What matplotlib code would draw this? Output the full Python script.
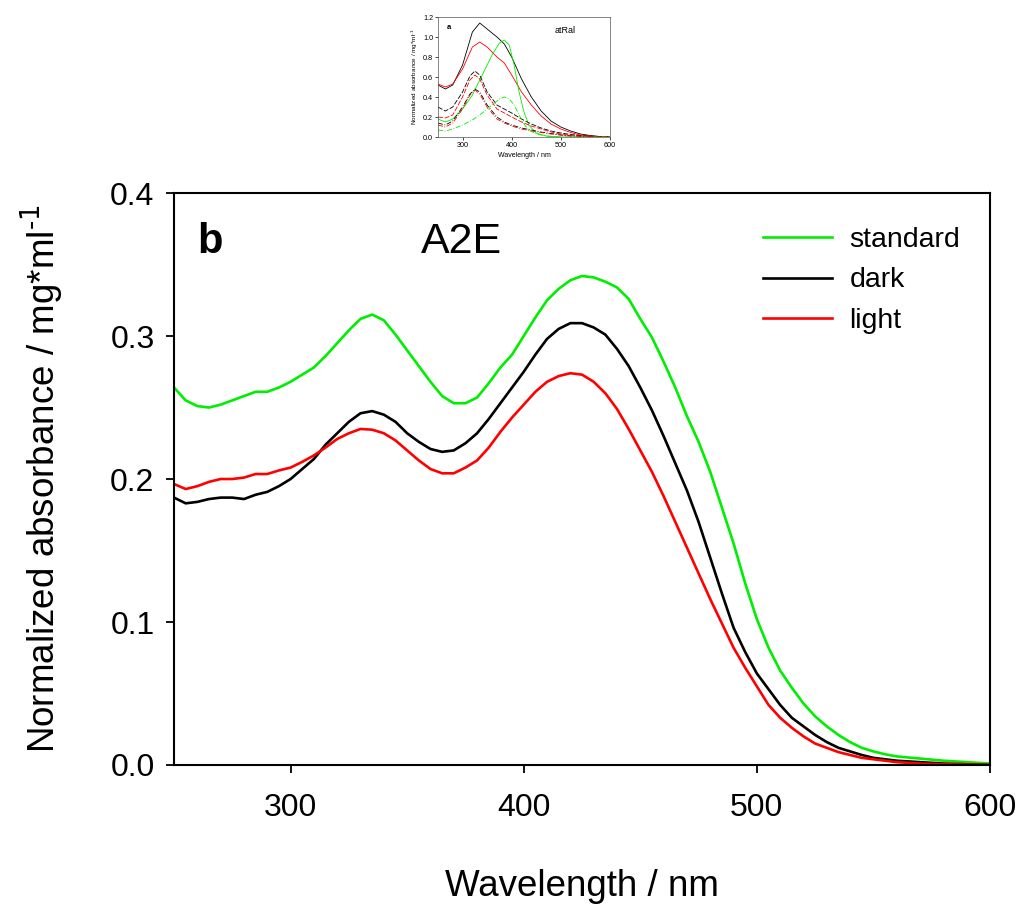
import numpy as np
import matplotlib
matplotlib.use('Agg')
import matplotlib.pyplot as plt

plt.rcParams['font.family'] = ['Liberation Sans', 'DejaVu Sans']

# ---- panel b: A2E spectra ----
wl = [250, 255, 260, 265, 270, 275, 280, 285, 290, 295, 300, 305, 310, 315, 320,
      325, 330, 335, 340, 345, 350, 355, 360, 365, 370, 375, 380, 385, 390, 395,
      400, 405, 410, 415, 420, 425, 430, 435, 440, 445, 450, 455, 460, 465, 470,
      475, 480, 485, 490, 495, 500, 505, 510, 515, 520, 525, 530, 535, 540, 545,
      550, 555, 560, 570, 580, 590, 600]

standard = [0.264, 0.255, 0.251, 0.250, 0.252, 0.255, 0.258, 0.261, 0.261, 0.264,
            0.268, 0.273, 0.278, 0.286, 0.295, 0.304, 0.312, 0.315, 0.311, 0.301,
            0.290, 0.279, 0.268, 0.258, 0.253, 0.253, 0.257, 0.267, 0.278, 0.287,
            0.300, 0.313, 0.325, 0.333, 0.339, 0.342, 0.341, 0.338, 0.334, 0.326,
            0.312, 0.299, 0.282, 0.264, 0.244, 0.226, 0.205, 0.180, 0.155, 0.127,
            0.102, 0.082, 0.066, 0.054, 0.043, 0.034, 0.027, 0.021, 0.016, 0.012,
            0.0095, 0.0075, 0.006, 0.0045, 0.003, 0.002, 0.001]

dark = [0.187, 0.183, 0.184, 0.186, 0.187, 0.187, 0.186, 0.189, 0.191, 0.195,
        0.200, 0.207, 0.214, 0.224, 0.232, 0.240, 0.246, 0.2475, 0.245, 0.240,
        0.232, 0.226, 0.221, 0.219, 0.220, 0.225, 0.232, 0.242, 0.253, 0.264,
        0.275, 0.287, 0.298, 0.305, 0.309, 0.309, 0.306, 0.301, 0.291, 0.279,
        0.264, 0.248, 0.230, 0.211, 0.192, 0.170, 0.145, 0.120, 0.096, 0.079,
        0.064, 0.053, 0.042, 0.033, 0.027, 0.021, 0.016, 0.012, 0.0095, 0.007,
        0.005, 0.004, 0.003, 0.002, 0.001, 0.0005, 0.0]

light = [0.1965, 0.193, 0.195, 0.198, 0.200, 0.200, 0.201, 0.2035, 0.2035, 0.206,
         0.208, 0.212, 0.2165, 0.222, 0.228, 0.232, 0.235, 0.2345, 0.232, 0.227,
         0.220, 0.213, 0.207, 0.204, 0.204, 0.208, 0.213, 0.222, 0.233, 0.243,
         0.252, 0.261, 0.268, 0.272, 0.274, 0.273, 0.268, 0.260, 0.249, 0.235,
         0.220, 0.205, 0.188, 0.170, 0.152, 0.134, 0.116, 0.099, 0.082, 0.068,
         0.055, 0.042, 0.033, 0.026, 0.020, 0.015, 0.012, 0.009, 0.007, 0.005,
         0.004, 0.003, 0.002, 0.001, 0.0005, 0.0003, 0.0]

# ---- panel a: atRal inset ----
wl_a = [250, 265, 280, 300, 320, 335, 350, 370, 385, 400, 420, 440, 460, 480,
        500, 520, 540, 560, 580, 600]
a_dark = [0.52, 0.48, 0.52, 0.72, 1.05, 1.14, 1.08, 1.00, 0.93, 0.80, 0.58, 0.40,
          0.26, 0.16, 0.10, 0.06, 0.03, 0.015, 0.005, 0.0]
a_light = [0.53, 0.50, 0.53, 0.68, 0.90, 0.95, 0.90, 0.80, 0.74, 0.62, 0.45, 0.32,
           0.21, 0.13, 0.08, 0.045, 0.02, 0.01, 0.004, 0.0]

wl_g = [250, 265, 280, 300, 320, 340, 360, 375, 385, 395, 405, 415, 425, 435,
        450, 470, 500, 600]
a_std = [0.18, 0.15, 0.18, 0.28, 0.42, 0.62, 0.82, 0.94, 0.97, 0.92, 0.72, 0.45,
         0.25, 0.12, 0.04, 0.01, 0.0, 0.0]
a_std2 = [0.07, 0.06, 0.08, 0.12, 0.17, 0.24, 0.32, 0.38, 0.40, 0.38, 0.32, 0.22,
          0.13, 0.07, 0.03, 0.01, 0.0, 0.0]

wl_d = [250, 265, 280, 300, 315, 325, 335, 350, 370, 385, 400, 420, 440, 460,
        480, 500, 520, 550, 600]
a_dark2 = [0.30, 0.26, 0.30, 0.45, 0.61, 0.66, 0.62, 0.45, 0.32, 0.28, 0.24, 0.18,
           0.13, 0.09, 0.06, 0.04, 0.025, 0.01, 0.0]
a_light2 = [0.20, 0.19, 0.22, 0.40, 0.57, 0.62, 0.58, 0.42, 0.28, 0.24, 0.20, 0.15,
            0.11, 0.08, 0.05, 0.03, 0.02, 0.008, 0.0]
a_dark3 = [0.14, 0.12, 0.16, 0.30, 0.43, 0.48, 0.45, 0.32, 0.20, 0.15, 0.12, 0.09,
           0.07, 0.05, 0.035, 0.02, 0.012, 0.005, 0.0]
a_light3 = [0.12, 0.10, 0.14, 0.28, 0.42, 0.47, 0.43, 0.30, 0.18, 0.14, 0.11, 0.08,
            0.06, 0.045, 0.03, 0.02, 0.01, 0.004, 0.0]

GREEN = '#00ee00'
RED = '#ff0000'
YLAB = r'Normalized absorbance / mg*ml$^{\text{-1}}$'

fig = plt.figure(figsize=(10.2, 9.05), dpi=100)

# 主圖 b
ax = fig.add_axes([0.1706, 0.1547, 0.8, 0.632])
ax.plot(wl, standard, color=GREEN, lw=1.9, label='standard')
ax.plot(wl, dark, color='black', lw=1.9, label='dark')
ax.plot(wl, light, color=RED, lw=1.9, label='light')
ax.set_xlim(250, 600)
ax.set_ylim(0, 0.4)
ax.set_xticks([300, 400, 500, 600])
ax.set_yticks([0.0, 0.1, 0.2, 0.3, 0.4])
ax.yaxis.set_major_formatter(matplotlib.ticker.FormatStrFormatter('%.1f'))
ax.tick_params(direction='out', length=6, width=1.3, labelsize=23, pad=8)
ax.tick_params(axis='x', pad=14)
for s in ax.spines.values():
    s.set_linewidth(1.5)
ax.set_xlabel('Wavelength / nm', fontsize=26.5, labelpad=33)
ax.set_ylabel(YLAB, fontsize=26.5, labelpad=32)
ax.text(0.028, 0.915, 'b', transform=ax.transAxes, fontsize=30, fontweight='bold',
        va='center', ha='left')
ax.text(0.302, 0.915, 'A2E', transform=ax.transAxes, fontsize=31,
        va='center', ha='left')
ax.legend(loc='upper right', bbox_to_anchor=(0.995, 0.985), frameon=False,
          fontsize=20.5, handlelength=2.45, handletextpad=0.6, labelspacing=0.5)

# 小圖 a
ax2 = fig.add_axes([0.4294, 0.8486, 0.1686, 0.1326])
ax2.plot(wl_a, a_dark, color='black', lw=0.6)
ax2.plot(wl_a, a_light, color=RED, lw=0.6)
ax2.plot(wl_g, a_std, color=GREEN, lw=0.6)
ax2.plot(wl_d, a_dark2, color='black', lw=0.6, ls=(0, (6, 2)))
ax2.plot(wl_d, a_light2, color=RED, lw=0.6, ls=(0, (6, 2)))
ax2.plot(wl_d, a_dark3, color='black', lw=0.6, ls=(0, (6, 2, 1, 2)))
ax2.plot(wl_d, a_light3, color=RED, lw=0.6, ls=(0, (6, 2, 1, 2)))
ax2.plot(wl_g, a_std2, color=GREEN, lw=0.6, ls=(0, (6, 2, 1, 2)))
ax2.set_xlim(250, 600)
ax2.set_ylim(0, 1.2)
ax2.set_xticks([300, 400, 500, 600])
ax2.set_yticks([0.0, 0.2, 0.4, 0.6, 0.8, 1.0, 1.2])
ax2.yaxis.set_major_formatter(matplotlib.ticker.FormatStrFormatter('%.1f'))
ax2.tick_params(direction='out', length=2, width=0.5, labelsize=5.2, pad=1.5)
for s in ax2.spines.values():
    s.set_linewidth(0.5)
    s.set_color('#555555')
ax2.set_xlabel('Wavelength / nm', fontsize=5, labelpad=2)
ax2.set_ylabel(YLAB, fontsize=4.6, labelpad=2)
ax2.text(0.05, 0.91, 'a', transform=ax2.transAxes, fontsize=5.5, fontweight='bold',
         va='center')
ax2.text(0.68, 0.89, 'atRal', transform=ax2.transAxes, fontsize=6.5, va='center')

fig.savefig('out.png', dpi=100)
